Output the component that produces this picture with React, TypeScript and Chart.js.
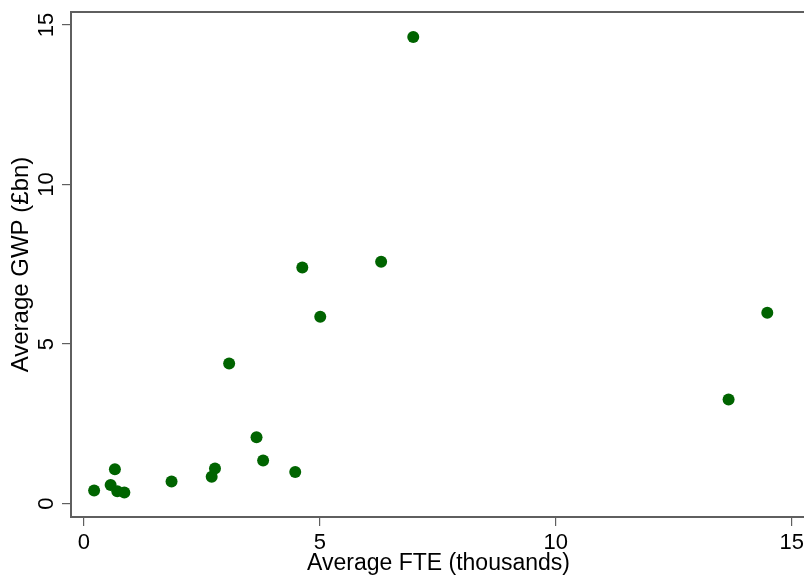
import React, { useEffect, useRef } from "react";
import { Chart, registerables } from "chart.js";

Chart.register(...registerables);

// Average FTE (thousands) per region
const fte = [0.22, 0.57, 0.66, 0.71, 0.86, 1.86, 2.71, 2.78, 3.66, 3.8, 4.48, 3.08, 4.63, 5.01, 6.3, 6.98, 14.48, 13.66];
// Average GWP (£bn) per region
const gwp = [0.41, 0.58, 1.08, 0.39, 0.35, 0.69, 0.84, 1.1, 2.08, 1.35, 0.99, 4.39, 7.4, 5.86, 7.58, 14.63, 5.98, 3.26];

const xTicks = [0, 5, 10, 15];
const yTicks = [0, 5, 10, 15];
const xTitle = "Average FTE (thousands)";
const yTitle = "Average GWP (£bn)";

const FONT = "'Liberation Sans', Arial, Helvetica, sans-serif";
const AXIS = "#5f5f5f";

const framePlugin = {
  id: "frame",
  beforeDatasetsDraw(chart: any) {
    const { ctx, chartArea } = chart;
    ctx.save();
    ctx.strokeStyle = AXIS;
    ctx.lineWidth = 2;
    ctx.strokeRect(chartArea.left, chartArea.top, chartArea.right - chartArea.left, chartArea.bottom - chartArea.top);
    ctx.restore();
  },
};

export default function App() {
  const ref = useRef<HTMLCanvasElement | null>(null);

  useEffect(() => {
    if (!ref.current) return;
    const points = fte.map((x, i) => ({ x, y: gwp[i] }));
    const chart = new Chart(ref.current, {
      type: "scatter",
      data: {
        datasets: [
          {
            data: points,
            backgroundColor: "#006400",
            borderWidth: 0,
            pointRadius: 6,
            pointHoverRadius: 6,
          },
        ],
      },
      options: {
        responsive: false,
        animation: false,
        devicePixelRatio: 1,
        layout: { padding: { top: 12, right: 6, left: 0, bottom: 0 } },
        plugins: { legend: { display: false }, tooltip: { enabled: false } },
        scales: {
          x: {
            type: "linear",
            min: -0.27,
            max: 15.3,
            afterFit: (s: any) => {
              s.height = 60;
              s.paddingLeft = 0;
              s.paddingRight = 0;
            },
            afterBuildTicks: (s: any) => {
              s.ticks = xTicks.map((v) => ({ value: v }));
            },
            border: { display: false },
            grid: { drawOnChartArea: false, drawTicks: true, tickLength: 9, tickColor: AXIS, lineWidth: 1.2 },
            ticks: { color: "#000", font: { family: FONT, size: 22 }, padding: 4, maxRotation: 0, minRotation: 0 },
            title: { display: true, text: xTitle, color: "#000", font: { family: FONT, size: 23 }, padding: { top: 0, bottom: 0 } },
          },
          y: {
            type: "linear",
            min: -0.42,
            max: 15.41,
            afterFit: (s: any) => {
              s.width = 71;
              s.paddingTop = 0;
              s.paddingBottom = 0;
            },
            afterBuildTicks: (s: any) => {
              s.ticks = yTicks.map((v) => ({ value: v }));
            },
            border: { display: false },
            grid: { drawOnChartArea: false, drawTicks: true, tickLength: 9, tickColor: AXIS, lineWidth: 1.2 },
            ticks: {
              color: "#000",
              font: { family: FONT, size: 22 },
              padding: 3,
              minRotation: 90,
              maxRotation: 90,
              crossAlign: "center",
            },
            title: { display: true, text: yTitle, color: "#000", font: { family: FONT, size: 24 }, padding: { top: 7, bottom: 0 } },
          },
        },
      },
      plugins: [framePlugin],
    });
    return () => chart.destroy();
  }, []);

  return (
    <div style={{ position: "fixed", left: 0, top: 0, width: 804, height: 577, overflow: "hidden", background: "#fff" }}>
      <canvas ref={ref} width={812} height={577} style={{ display: "block" }} />
    </div>
  );
}
